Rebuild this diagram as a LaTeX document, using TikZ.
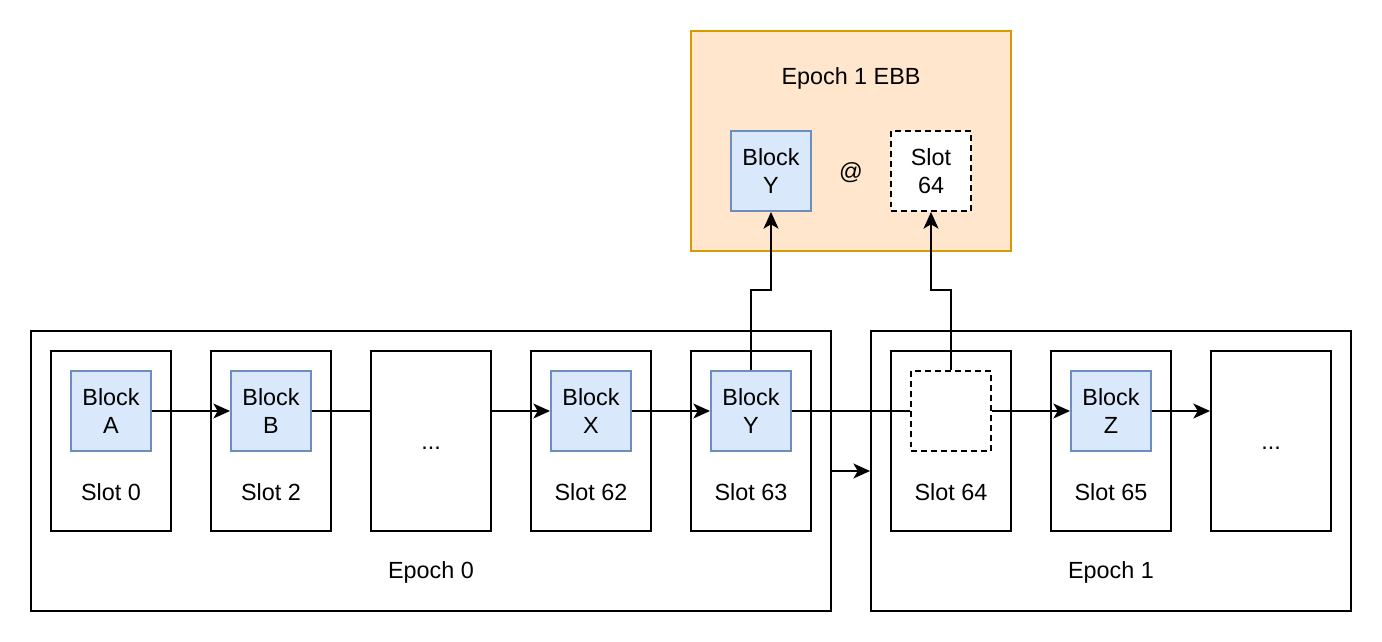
\documentclass[tikz,border=0pt]{standalone}
\usepackage{fontspec}
\setmainfont{Liberation Sans}
\usetikzlibrary{arrows.meta}
\definecolor{blockfill}{HTML}{DAE8FC}
\definecolor{blockline}{HTML}{6C8EBF}
\definecolor{ebbfill}{HTML}{FFE6CC}
\definecolor{ebbline}{HTML}{D79B00}
\begin{document}
\begin{tikzpicture}[x=0.02cm,y=-0.02cm,line width=1.1pt,
  font=\fontsize{13.3pt}{16pt}\selectfont,
  box/.style={draw,fill=white,inner sep=0pt,minimum width=#1},
  slotbox/.style={box=2.4cm,minimum height=3.6cm},
  blk/.style={draw=blockline,fill=blockfill,inner sep=0pt,minimum width=1.6cm,minimum height=1.6cm,align=center},
  ghostbox/.style={draw,dash pattern=on 3.4pt off 2.3pt,fill=white,inner sep=0pt,minimum width=1.6cm,minimum height=1.6cm,align=center},
  arr/.style={-{Stealth[length=9.5pt,width=8.5pt,inset=2.5pt]}}]
\useasboundingbox (0,0) rectangle (1382,642);

% epoch boxes
\node[box=16cm,minimum height=5.6cm] (ep0) at (431,471) {};
\node[box=9.6cm,minimum height=5.6cm] (ep1) at (1111,471) {};
\node (ep0t) at (431,572) {Epoch 0};
\node (ep1t) at (1111,572) {Epoch 1};

% slots
\node[slotbox] (s0) at (111,441) {};
\node[slotbox] (s2) at (271,441) {};
\node[slotbox] (sd) at (431,441) {};
\node[slotbox] (s62) at (591,441) {};
\node[slotbox] (s63) at (751,441) {};
\node[slotbox] (s64) at (951,441) {};
\node[slotbox] (s65) at (1111,441) {};
\node[slotbox] (se) at (1271,441) {};
\node (s0t) at (111,492) {Slot 0};
\node (s2t) at (271,492) {Slot 2};
\node (sdt) at (431,448) {...};
\node (s62t) at (591,492) {Slot 62};
\node (s63t) at (751,492) {Slot 63};
\node (s64t) at (951,492) {Slot 64};
\node (s65t) at (1111,492) {Slot 65};
\node (set) at (1271,448) {...};

% blocks
\node[blk] (bA) at (111,411) {Block\\A};
\node[blk] (bB) at (271,411) {Block\\B};
\node[blk] (bX) at (591,411) {Block\\X};
\node[blk] (bY) at (751,411) {Block\\Y};
\node[ghostbox] (gh) at (951,411) {};
\node[blk] (bZ) at (1111,411) {Block\\Z};

% EBB
\node[draw=ebbline,fill=ebbfill,inner sep=0pt,minimum width=6.4cm,minimum height=4.4cm] (ebb) at (851,141) {};
\node (ebbt) at (851,78) {Epoch 1 EBB};
\node[blk] (eY) at (771,171) {Block\\Y};
\node (at) at (851,173) {@};
\node[ghostbox] (eS) at (931,171) {Slot\\64};

% chain
\draw[arr] (bA) -- (bB);
\draw (bB) -- (bB -| sd.west);
\draw[arr] (sd.east |- bX) -- (bX);
\draw[arr] (bX) -- (bY);
\draw (bY) -- (gh);
\draw[arr] (gh) -- (bZ);
\draw[arr] (bZ) -- (bZ -| se.west);
\draw[arr] (ep0) -- (ep1);

% up to EBB
\draw[arr] (bY.north) -- ++(0,-80) -| (eY.south);
\draw[arr] (gh.north) -- ++(0,-80) -| (eS.south);
\end{tikzpicture}
\end{document}
